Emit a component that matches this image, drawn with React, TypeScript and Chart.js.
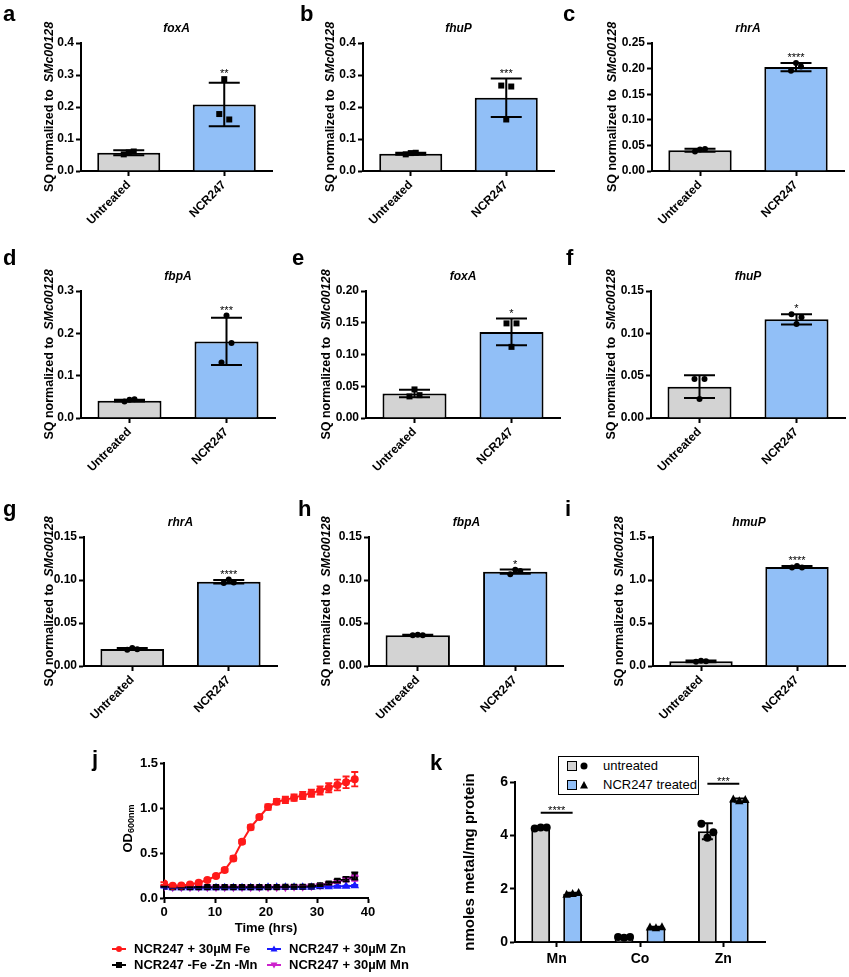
import React, { useEffect, useRef } from "react";
import { Chart, registerables } from "chart.js";

Chart.register(...registerables);

const FONT = "'Liberation Sans', Arial, Helvetica, sans-serif";
Chart.defaults.font.family = FONT;
Chart.defaults.color = "#000";

// ---------------- data: qPCR panels a–i ----------------
const GROUPS = ["Untreated", "NCR247"];

// a – foxA
const aMean = [0.057, 0.208];
const aSd = [0.008, 0.068];
const aPts = [[0.052, 0.058, 0.061], [0.178, 0.287, 0.161]];
// b – fhuP
const bMean = [0.054, 0.229];
const bSd = [0.003, 0.06];
const bPts = [[0.052, 0.056, 0.057], [0.267, 0.161, 0.264]];
// c – rhrA
const cMean = [0.0405, 0.203];
const cSd = [0.003, 0.008];
const cPts = [[0.038, 0.042, 0.043], [0.196, 0.211, 0.204]];
// d – fbpA
const dMean = [0.041, 0.181];
const dSd = [0.002, 0.056];
const dPts = [[0.039, 0.043, 0.044], [0.131, 0.242, 0.177]];
// e – foxA
const eMean = [0.0385, 0.1355];
const eSd = [0.006, 0.021];
const ePts = [[0.034, 0.045, 0.036], [0.149, 0.112, 0.149]];
// f – fhuP
const fMean = [0.037, 0.1165];
const fSd = [0.0135, 0.006];
const fPts = [[0.046, 0.0225, 0.046], [0.1225, 0.111, 0.119]];
// g – rhrA
const gMean = [0.0198, 0.098];
const gSd = [0.0012, 0.002];
const gPts = [[0.019, 0.021, 0.0195], [0.0965, 0.1005, 0.097]];
// h – fbpA
const hMean = [0.0358, 0.1097];
const hSd = [0.0005, 0.0025];
const hPts = [[0.0358, 0.0362, 0.0358], [0.1067, 0.112, 0.1105]];
// i – hmuP
const iMean = [0.055, 1.151];
const iSd = [0.01, 0.012];
const iPts = [[0.05, 0.062, 0.055], [1.146, 1.162, 1.145]];

// ---------------- data: growth curve j ----------------
const J_TIME = [0, 1.7, 3.4, 5.1, 6.8, 8.5, 10.2, 11.9, 13.6, 15.3, 17.0, 18.7, 20.4, 22.1, 23.8, 25.5, 27.2, 28.9, 30.6, 32.3, 34.0, 35.7, 37.4];
const J_FE = [0.16, 0.135, 0.14, 0.15, 0.17, 0.2, 0.245, 0.31, 0.44, 0.625, 0.785, 0.9, 1.01, 1.07, 1.09, 1.115, 1.14, 1.165, 1.195, 1.225, 1.255, 1.285, 1.32];
const J_FE_SD = [0.015, 0.01, 0.01, 0.01, 0.01, 0.012, 0.015, 0.02, 0.025, 0.02, 0.025, 0.02, 0.03, 0.03, 0.035, 0.035, 0.04, 0.04, 0.045, 0.05, 0.06, 0.065, 0.08];
const J_NONE = [0.13, 0.12, 0.12, 0.12, 0.12, 0.12, 0.12, 0.12, 0.12, 0.12, 0.12, 0.12, 0.12, 0.12, 0.125, 0.125, 0.125, 0.13, 0.14, 0.16, 0.19, 0.21, 0.245];
const J_NONE_SD = [0.005, 0.004, 0.004, 0.004, 0.004, 0.004, 0.004, 0.004, 0.004, 0.004, 0.004, 0.004, 0.004, 0.004, 0.005, 0.005, 0.005, 0.006, 0.008, 0.012, 0.018, 0.025, 0.04];
const J_ZN = [0.12, 0.115, 0.115, 0.115, 0.115, 0.115, 0.115, 0.115, 0.115, 0.115, 0.115, 0.115, 0.12, 0.12, 0.12, 0.12, 0.12, 0.12, 0.125, 0.125, 0.13, 0.13, 0.135];
const J_ZN_SD = [0.004, 0.003, 0.003, 0.003, 0.003, 0.003, 0.003, 0.003, 0.003, 0.003, 0.003, 0.003, 0.003, 0.003, 0.003, 0.003, 0.004, 0.004, 0.004, 0.005, 0.006, 0.007, 0.01];
const J_MN = [0.125, 0.12, 0.12, 0.12, 0.12, 0.12, 0.12, 0.12, 0.12, 0.12, 0.12, 0.12, 0.12, 0.12, 0.12, 0.125, 0.125, 0.13, 0.14, 0.155, 0.18, 0.205, 0.22];
const J_MN_SD = [0.004, 0.003, 0.003, 0.003, 0.003, 0.003, 0.003, 0.003, 0.003, 0.003, 0.003, 0.003, 0.003, 0.003, 0.003, 0.004, 0.004, 0.005, 0.007, 0.01, 0.015, 0.02, 0.03];
const J_LABELS = ["NCR247 + 30µM Fe", "NCR247 -Fe -Zn -Mn", "NCR247 + 30µM Zn", "NCR247 + 30µM Mn"];
const J_X_TICKS = [0, 40, 10];
const J_Y_TICKS = [0, 1.5, 0.5];

// ---------------- data: metal content k ----------------
const K_METALS = ["Mn", "Co", "Zn"];
const K_LABELS = ["untreated", "NCR247 treated"];
const K_UNT = [4.28, 0.18, 4.15];
const K_UNT_SD = [0.03, 0.03, 0.3];
const K_UNT_PTS = [[4.26, 4.29, 4.29], [0.19, 0.16, 0.19], [4.43, 3.91, 4.12]];
const K_TRT = [1.81, 0.54, 5.32];
const K_TRT_SD = [0.04, 0.03, 0.06];
const K_TRT_PTS = [[1.78, 1.81, 1.84], [0.55, 0.52, 0.56], [5.35, 5.28, 5.33]];
const K_SIG = [4.85, null, 5.93];
const K_SIG_TEXT = ["****", "", "***"];

// ---------------- styles / layout ----------------
const GREY = "#d3d3d3";
const BLUE = "#91bff7";
const RED = "#ff1a1a";
const MAGENTA = "#cc22cc";
const NAVY = "#1a1aff";

type Box = { x: number; y: number; w: number; h: number };
type Area = { l: number; r: number; t: number; b: number };

const BAR_LAYOUT: Record<string, { box: Box; area: Area; off: number }> = {
  a: { box: { x: 0, y: 0, w: 282, h: 232 }, area: { l: 81, r: 272, t: 43, b: 171 }, off: 31 },
  b: { box: { x: 282, y: 0, w: 280, h: 232 }, area: { l: 363, r: 554, t: 43, b: 171 }, off: 32 },
  c: { box: { x: 562, y: 0, w: 287, h: 232 }, area: { l: 652, r: 844, t: 43, b: 171 }, off: 39 },
  d: { box: { x: 0, y: 240, w: 282, h: 240 }, area: { l: 81, r: 275, t: 291, b: 418 }, off: 31 },
  e: { box: { x: 282, y: 240, w: 280, h: 240 }, area: { l: 366, r: 560, t: 291, b: 418 }, off: 39 },
  f: { box: { x: 562, y: 240, w: 287, h: 240 }, area: { l: 651, r: 845, t: 291, b: 418 }, off: 39 },
  g: { box: { x: 0, y: 488, w: 282, h: 244 }, area: { l: 84, r: 277, t: 537, b: 666 }, off: 34 },
  h: { box: { x: 282, y: 488, w: 282, h: 244 }, area: { l: 369, r: 564, t: 537, b: 666 }, off: 42 },
  i: { box: { x: 564, y: 488, w: 285, h: 244 }, area: { l: 653, r: 845, t: 537, b: 666 }, off: 33 },
};
const BAR_Y_W = 40;
const BAR_X_H = 60;

const PANELS = [
  { key: "a", gene: "foxA", mean: aMean, sd: aSd, pts: aPts, stars: "**", yMax: 0.4, step: 0.1, dec: 1, marker: "rect" },
  { key: "b", gene: "fhuP", mean: bMean, sd: bSd, pts: bPts, stars: "***", yMax: 0.4, step: 0.1, dec: 1, marker: "rect" },
  { key: "c", gene: "rhrA", mean: cMean, sd: cSd, pts: cPts, stars: "****", yMax: 0.25, step: 0.05, dec: 2, marker: "circle" },
  { key: "d", gene: "fbpA", mean: dMean, sd: dSd, pts: dPts, stars: "***", yMax: 0.3, step: 0.1, dec: 1, marker: "circle" },
  { key: "e", gene: "foxA", mean: eMean, sd: eSd, pts: ePts, stars: "*", yMax: 0.2, step: 0.05, dec: 2, marker: "rect" },
  { key: "f", gene: "fhuP", mean: fMean, sd: fSd, pts: fPts, stars: "*", yMax: 0.15, step: 0.05, dec: 2, marker: "circle" },
  { key: "g", gene: "rhrA", mean: gMean, sd: gSd, pts: gPts, stars: "****", yMax: 0.15, step: 0.05, dec: 2, marker: "circle" },
  { key: "h", gene: "fbpA", mean: hMean, sd: hSd, pts: hPts, stars: "*", yMax: 0.15, step: 0.05, dec: 2, marker: "circle" },
  { key: "i", gene: "hmuP", mean: iMean, sd: iSd, pts: iPts, stars: "****", yMax: 1.5, step: 0.5, dec: 1, marker: "circle" },
].map((p) => ({ ...p, ...BAR_LAYOUT[p.key] }));

const LETTERS = [
  { t: "a", x: 3, y: 22 }, { t: "b", x: 300, y: 22 }, { t: "c", x: 563, y: 22 },
  { t: "d", x: 3, y: 266 }, { t: "e", x: 292, y: 266 }, { t: "f", x: 566, y: 266 },
  { t: "g", x: 3, y: 517 }, { t: "h", x: 298, y: 517 }, { t: "i", x: 565, y: 517 },
  { t: "j", x: 92, y: 767 }, { t: "k", x: 430, y: 771 },
];

const J_BOX: Box = { x: 90, y: 745, w: 300, h: 200 };
const J_AREA: Area = { l: 164, r: 368, t: 763, b: 898 };
const K_BOX: Box = { x: 425, y: 745, w: 424, h: 232 };
const K_AREA: Area = { l: 515, r: 765, t: 782, b: 942 };

const JIT = [-5, 0, 5];

function padFor(box: Box, area: Area, yW: number, xH: number) {
  return {
    left: area.l - box.x - yW,
    right: box.x + box.w - area.r,
    top: area.t - box.y,
    bottom: box.y + box.h - area.b - xH,
  };
}

function axisStyle(fontSize: number, tickLen: number, pad: number) {
  return {
    grid: { display: true, drawOnChartArea: false, drawTicks: true, tickLength: tickLen, tickColor: "#000", tickWidth: 2, color: "#000", offset: false },
    border: { display: true, color: "#000", width: 2 },
    ticks: { color: "#000", font: { size: fontSize, weight: "bold" as const, family: FONT }, padding: pad, autoSkip: false },
  };
}

function drawErrorBar(ctx: CanvasRenderingContext2D, x: number, top: number, bot: number, cap: number) {
  ctx.beginPath();
  ctx.moveTo(x, top);
  ctx.lineTo(x, bot);
  ctx.moveTo(x - cap, top);
  ctx.lineTo(x + cap, top);
  ctx.moveTo(x - cap, bot);
  ctx.lineTo(x + cap, bot);
  ctx.stroke();
}

function drawMarker(ctx: CanvasRenderingContext2D, kind: string, x: number, y: number, r: number) {
  ctx.beginPath();
  if (kind === "rect") {
    ctx.rect(x - r, y - r, 2 * r, 2 * r);
  } else if (kind === "triangle") {
    ctx.moveTo(x, y - r * 1.15);
    ctx.lineTo(x + r, y + r * 0.75);
    ctx.lineTo(x - r, y + r * 0.75);
    ctx.closePath();
  } else {
    ctx.arc(x, y, r, 0, Math.PI * 2);
  }
  ctx.fill();
}

function drawRotatedParts(ctx: CanvasRenderingContext2D, cx: number, cy: number, parts: { text: string; font: string; dy?: number }[]) {
  ctx.save();
  ctx.translate(cx, cy);
  ctx.rotate(-Math.PI / 2);
  let total = 0;
  const widths = parts.map((p) => {
    ctx.font = p.font;
    const w = ctx.measureText(p.text).width;
    total += w;
    return w;
  });
  let sx = -total / 2;
  ctx.textAlign = "left";
  ctx.textBaseline = "middle";
  ctx.fillStyle = "#000";
  parts.forEach((p, i) => {
    ctx.font = p.font;
    ctx.fillText(p.text, sx, p.dy || 0);
    sx += widths[i];
  });
  ctx.restore();
}

// ---------------- qPCR bar chart ----------------
function makeBarChart(canvas: HTMLCanvasElement, p: any) {
  const extras = {
    id: "barExtras",
    afterDatasetsDraw(chart: any) {
      const { ctx, chartArea: ca } = chart;
      const ys = chart.scales.y;
      const meta = chart.getDatasetMeta(0);
      ctx.save();
      ctx.strokeStyle = "#000";
      ctx.fillStyle = "#000";
      ctx.lineWidth = 2;
      p.mean.forEach((m: number, i: number) => {
        const x = meta.data[i].x;
        drawErrorBar(ctx, x, ys.getPixelForValue(m + p.sd[i]), ys.getPixelForValue(m - p.sd[i]), 15.5);
        p.pts[i].forEach((v: number, j: number) => {
          drawMarker(ctx, p.marker, x + JIT[j], ys.getPixelForValue(v), 3);
        });
      });
      // significance stars above NCR247
      const sx = meta.data[1].x;
      const topVal = Math.max(p.mean[1] + p.sd[1], ...p.pts[1]);
      ctx.font = `11px ${FONT}`;
      ctx.textAlign = "center";
      ctx.textBaseline = "alphabetic";
      ctx.fillText(p.stars, sx, ys.getPixelForValue(topVal) - 2);
      // gene title
      ctx.font = `italic bold 12px ${FONT}`;
      ctx.textBaseline = "middle";
      ctx.fillText(p.gene, (ca.left + ca.right) / 2, ca.top - 14);
      ctx.restore();
      // y axis title
      drawRotatedParts(ctx, ca.left - p.off, (ca.top + ca.bottom) / 2, [
        { text: "SQ normalized to  ", font: `bold 12.5px ${FONT}` },
        { text: "SMc00128", font: `italic bold 12.5px ${FONT}` },
      ]);
    },
  };
  const xs = axisStyle(12, 5, 2);
  const yst = axisStyle(12, 5, 2);
  return new Chart(canvas, {
    type: "bar",
    data: {
      labels: GROUPS,
      datasets: [
        {
          data: p.mean,
          backgroundColor: [GREY, BLUE],
          borderColor: "#000",
          borderWidth: 2,
          borderSkipped: "bottom",
          barPercentage: 0.66,
          categoryPercentage: 1,
        },
      ],
    },
    options: {
      responsive: false,
      animation: false,
      devicePixelRatio: 1,
      layout: { padding: padFor(p.box, p.area, BAR_Y_W, BAR_X_H) },
      plugins: { legend: { display: false }, tooltip: { enabled: false } },
      scales: {
        x: {
          type: "category",
          offset: true,
          ...xs,
          ticks: { ...xs.ticks, maxRotation: 45, minRotation: 45 },
          afterFit(s: any) {
            s.height = BAR_X_H;
          },
        },
        y: {
          min: 0,
          max: p.yMax,
          ...yst,
          ticks: { ...yst.ticks, stepSize: p.step, callback: (v: any) => Number(v).toFixed(p.dec) },
          afterFit(s: any) {
            s.width = BAR_Y_W;
          },
        },
      },
    },
    plugins: [extras],
  } as any);
}

// ---------------- growth curve j ----------------
function makeGrowthChart(canvas: HTMLCanvasElement) {
  const series = [
    { label: J_LABELS[0], y: J_FE, sd: J_FE_SD, color: RED, style: "circle", rot: 0 },
    { label: J_LABELS[1], y: J_NONE, sd: J_NONE_SD, color: "#000", style: "rect", rot: 0 },
    { label: J_LABELS[2], y: J_ZN, sd: J_ZN_SD, color: NAVY, style: "triangle", rot: 0 },
    { label: J_LABELS[3], y: J_MN, sd: J_MN_SD, color: MAGENTA, style: "triangle", rot: 180 },
  ];
  const extras = {
    id: "growthExtras",
    afterDatasetsDraw(chart: any) {
      const { ctx, chartArea: ca } = chart;
      const xsc = chart.scales.x;
      const ysc = chart.scales.y;
      ctx.save();
      ctx.lineWidth = 1.8;
      [3, 2, 1, 0].forEach((si) => {
        const s = series[si];
        ctx.strokeStyle = s.color;
        s.y.forEach((v: number, i: number) => {
          const x = xsc.getPixelForValue(J_TIME[i]);
          drawErrorBar(ctx, x, ysc.getPixelForValue(v + s.sd[i]), ysc.getPixelForValue(v - s.sd[i]), 3.5);
        });
      });
      ctx.fillStyle = "#000";
      ctx.font = `bold 13px ${FONT}`;
      ctx.textAlign = "center";
      ctx.textBaseline = "middle";
      ctx.fillText("Time (hrs)", (ca.left + ca.right) / 2, ca.bottom + 30);
      ctx.restore();
      drawRotatedParts(ctx, ca.left - 36, (ca.top + ca.bottom) / 2 - 2, [
        { text: "OD", font: `bold 13px ${FONT}` },
        { text: "600nm", font: `bold 9px ${FONT}`, dy: 4 },
      ]);
    },
  };
  const xs = axisStyle(13, 5, 2);
  const yst = axisStyle(13, 4, 2);
  return new Chart(canvas, {
    type: "line",
    data: {
      datasets: series.map((s, si) => ({
        label: s.label,
        data: J_TIME.map((t, i) => ({ x: t, y: s.y[i] })),
        borderColor: s.color,
        backgroundColor: s.color,
        pointBackgroundColor: s.color,
        pointBorderColor: s.color,
        pointStyle: s.style,
        pointRotation: s.rot,
        pointRadius: 3,
        borderWidth: 2,
        tension: 0,
        order: si,
      })),
    },
    options: {
      responsive: false,
      animation: false,
      devicePixelRatio: 1,
      layout: { padding: padFor(J_BOX, J_AREA, 40, 25) },
      plugins: { legend: { display: false }, tooltip: { enabled: false } },
      scales: {
        x: {
          type: "linear",
          min: J_X_TICKS[0],
          max: J_X_TICKS[1],
          ...xs,
          ticks: { ...xs.ticks, stepSize: J_X_TICKS[2] },
          afterFit(s: any) {
            s.height = 25;
          },
        },
        y: {
          min: J_Y_TICKS[0],
          max: J_Y_TICKS[1],
          ...yst,
          ticks: { ...yst.ticks, stepSize: J_Y_TICKS[2], callback: (v: any) => Number(v).toFixed(1) },
          afterFit(s: any) {
            s.width = 40;
          },
        },
      },
    },
    plugins: [extras],
  } as any);
}

// ---------------- metal content k ----------------
function makeMetalChart(canvas: HTMLCanvasElement) {
  const groups = [
    { mean: K_UNT, sd: K_UNT_SD, pts: K_UNT_PTS, marker: "circle", r: 4 },
    { mean: K_TRT, sd: K_TRT_SD, pts: K_TRT_PTS, marker: "triangle", r: 4.2 },
  ];
  const extras = {
    id: "metalExtras",
    afterDatasetsDraw(chart: any) {
      const { ctx, chartArea: ca } = chart;
      const ys = chart.scales.y;
      ctx.save();
      ctx.strokeStyle = "#000";
      ctx.fillStyle = "#000";
      ctx.lineWidth = 2;
      groups.forEach((g, di) => {
        const meta = chart.getDatasetMeta(di);
        g.mean.forEach((m: number, i: number) => {
          const x = meta.data[i].x;
          drawErrorBar(ctx, x, ys.getPixelForValue(m + g.sd[i]), ys.getPixelForValue(m - g.sd[i]), 5.5);
          g.pts[i].forEach((v: number, j: number) => drawMarker(ctx, g.marker, x + JIT[j] * 1.2, ys.getPixelForValue(v), g.r));
        });
      });
      const m0 = chart.getDatasetMeta(0);
      const m1 = chart.getDatasetMeta(1);
      ctx.font = `11px ${FONT}`;
      ctx.textAlign = "center";
      ctx.textBaseline = "alphabetic";
      K_SIG.forEach((s, i) => {
        if (s == null) return;
        const y = ys.getPixelForValue(s);
        const x0 = m0.data[i].x;
        const x1 = m1.data[i].x;
        ctx.beginPath();
        ctx.moveTo(x0, y);
        ctx.lineTo(x1, y);
        ctx.stroke();
        ctx.fillText(K_SIG_TEXT[i], (x0 + x1) / 2, y + 1);
      });
      ctx.restore();
      drawRotatedParts(ctx, ca.left - 45, (ca.top + ca.bottom) / 2, [
        { text: "nmoles metal/mg protein", font: `bold 15px ${FONT}` },
      ]);
    },
  };
  const xs = axisStyle(14, 5, 4);
  const yst = axisStyle(14, 5, 2);
  return new Chart(canvas, {
    type: "bar",
    data: {
      labels: K_METALS,
      datasets: [
        { label: K_LABELS[0], data: K_UNT, backgroundColor: GREY, borderColor: "#000", borderWidth: 2, borderSkipped: "bottom", barPercentage: 0.59, categoryPercentage: 0.766 },
        { label: K_LABELS[1], data: K_TRT, backgroundColor: BLUE, borderColor: "#000", borderWidth: 2, borderSkipped: "bottom", barPercentage: 0.59, categoryPercentage: 0.766 },
      ],
    },
    options: {
      responsive: false,
      animation: false,
      devicePixelRatio: 1,
      layout: { padding: padFor(K_BOX, K_AREA, 40, 25) },
      plugins: { legend: { display: false }, tooltip: { enabled: false } },
      scales: {
        x: {
          type: "category",
          offset: true,
          ...xs,
          ticks: { ...xs.ticks, maxRotation: 0, minRotation: 0 },
          afterFit(s: any) {
            s.height = 25;
          },
        },
        y: {
          min: 0,
          max: 6,
          ...yst,
          ticks: { ...yst.ticks, stepSize: 2 },
          afterFit(s: any) {
            s.width = 40;
          },
        },
      },
    },
    plugins: [extras],
  } as any);
}

// ---------------- React components ----------------
function ChartCanvas({ box, make }: { box: Box; make: (c: HTMLCanvasElement) => Chart }) {
  const ref = useRef<HTMLCanvasElement>(null);
  useEffect(() => {
    const chart = make(ref.current as HTMLCanvasElement);
    return () => chart.destroy();
  }, []);
  return (
    <canvas
      ref={ref}
      width={box.w}
      height={box.h}
      style={{ position: "absolute", left: box.x, top: box.y, width: box.w, height: box.h }}
    />
  );
}

function Sym({ kind, color, rot }: { kind: string; color: string; rot?: number }) {
  let marker: any = null;
  if (kind === "circle") marker = <circle cx={7} cy={5} r={3} fill={color} />;
  else if (kind === "rect") marker = <rect x={4} y={2} width={6} height={6} fill={color} />;
  else marker = <polygon points="7,1.5 10.5,7.5 3.5,7.5" fill={color} transform={rot ? `rotate(${rot} 7 5)` : undefined} />;
  return (
    <svg width={14} height={10} style={{ display: "block" }}>
      <line x1={0} y1={5} x2={14} y2={5} stroke={color} strokeWidth={2} />
      {marker}
    </svg>
  );
}

function JLegend() {
  const items = [
    { label: J_LABELS[0], color: RED, kind: "circle", rot: 0, x: 112, cy: 949 },
    { label: J_LABELS[2], color: NAVY, kind: "triangle", rot: 0, x: 267, cy: 949 },
    { label: J_LABELS[1], color: "#000", kind: "rect", rot: 0, x: 112, cy: 965 },
    { label: J_LABELS[3], color: MAGENTA, kind: "triangle", rot: 180, x: 267, cy: 965 },
  ];
  return (
    <>
      {items.map((it) => (
        <React.Fragment key={it.label}>
          <div style={{ position: "absolute", left: it.x, top: it.cy - 5 }}>
            <Sym kind={it.kind} color={it.color} rot={it.rot} />
          </div>
          <div
            style={{
              position: "absolute",
              left: it.x + 22,
              top: it.cy - 8,
              lineHeight: "16px",
              font: `bold 13px ${FONT}`,
              whiteSpace: "nowrap",
              color: "#000",
            }}
          >
            {it.label}
          </div>
        </React.Fragment>
      ))}
    </>
  );
}

function KLegend() {
  const rows = [
    { label: K_LABELS[0], fill: GREY, marker: "circle", cy: 766 },
    { label: K_LABELS[1], fill: BLUE, marker: "triangle", cy: 785 },
  ];
  return (
    <>
      <div
        style={{
          position: "absolute",
          left: 558,
          top: 756,
          width: 141,
          height: 39,
          border: "1.5px solid #000",
          boxSizing: "border-box",
          background: "#fff",
        }}
      />
      {rows.map((r) => (
        <React.Fragment key={r.label}>
          <div
            style={{
              position: "absolute",
              left: 567,
              top: r.cy - 5,
              width: 10,
              height: 10,
              boxSizing: "border-box",
              border: "1.5px solid #000",
              background: r.fill,
            }}
          />
          <svg width={10} height={10} style={{ position: "absolute", left: 579, top: r.cy - 5 }}>
            {r.marker === "circle" ? (
              <circle cx={5} cy={5} r={3.5} fill="#000" />
            ) : (
              <polygon points="5,1 9,8.5 1,8.5" fill="#000" />
            )}
          </svg>
          <div
            style={{
              position: "absolute",
              left: 603,
              top: r.cy - 8,
              lineHeight: "16px",
              font: `13px ${FONT}`,
              whiteSpace: "nowrap",
              color: "#000",
            }}
          >
            {r.label}
          </div>
        </React.Fragment>
      ))}
    </>
  );
}

export default function App() {
  return (
    <div
      style={{
        position: "absolute",
        left: 0,
        top: 0,
        width: 849,
        height: 977,
        background: "#fff",
        overflow: "hidden",
        fontFamily: FONT,
      }}
    >
      {PANELS.map((p) => (
        <ChartCanvas key={p.key} box={p.box} make={(c) => makeBarChart(c, p)} />
      ))}
      <ChartCanvas box={J_BOX} make={makeGrowthChart} />
      <ChartCanvas box={K_BOX} make={makeMetalChart} />
      <JLegend />
      <KLegend />
      {LETTERS.map((l) => (
        <div
          key={l.t}
          style={{
            position: "absolute",
            left: l.x,
            top: l.y - 18.6,
            font: `bold 22px ${FONT}`,
            lineHeight: "22px",
            color: "#000",
          }}
        >
          {l.t}
        </div>
      ))}
    </div>
  );
}
